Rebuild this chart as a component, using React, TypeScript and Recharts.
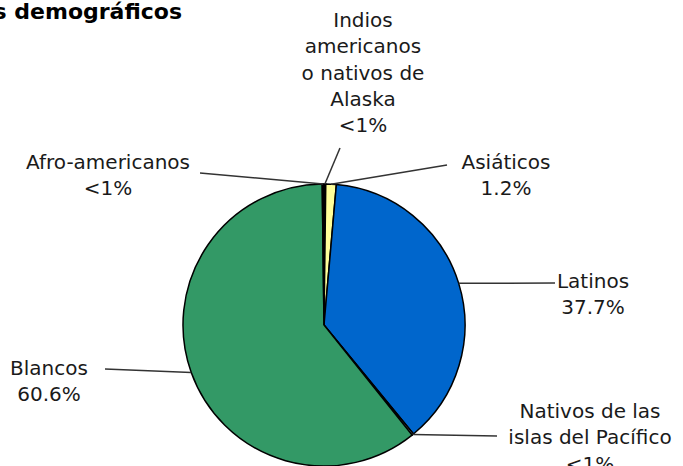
import { PieChart, Pie, Cell } from "recharts";

const groups = [
  "Indios americanos o nativos de Alaska",
  "Asiáticos",
  "Latinos",
  "Nativos de las islas del Pacífico",
  "Blancos",
  "Afro-americanos",
];
const shares = [0.2, 1.2, 37.7, 0.2, 60.6, 0.2];
const shareLabels = ["<1%", "1.2%", "37.7%", "<1%", "60.6%", "<1%"];
const labelLines = [
  ["Indios", "americanos", "o nativos de", "Alaska"],
  ["Asiáticos"],
  ["Latinos"],
  ["Nativos de las", "islas del Pacífico"],
  ["Blancos"],
  ["Afro-americanos"],
];
const colors = ["#000000", "#FFFF99", "#0066CC", "#C0D0E8", "#339966", "#000000"];

// where each label sits: text centre x, first line centre y, leader line start
const labelSpots = [
  { x: 363, y: 20, lx: 340, ly: 148 },
  { x: 506, y: 162, lx: 447, ly: 165 },
  { x: 593, y: 281, lx: 555, ly: 283 },
  { x: 590, y: 411, lx: 497, ly: 436 },
  { x: 49, y: 368, lx: 105, ly: 369 },
  { x: 108, y: 162, lx: 200, ly: 173 },
];

const data = groups.map((name, i) => ({ name, value: shares[i] }));

const RADIAN = Math.PI / 180;

const renderLabel = (props: any) => {
  const { cx, cy, midAngle, outerRadius, index } = props;
  const spot = labelSpots[index];
  const ex = cx + outerRadius * Math.cos(-midAngle * RADIAN);
  const ey = cy + outerRadius * Math.sin(-midAngle * RADIAN);
  const lines = [...labelLines[index], shareLabels[index]];
  return (
    <g key={`lbl-${index}`}>
      <line x1={spot.lx} y1={spot.ly} x2={ex} y2={ey} stroke="#333" strokeWidth={1.5} />
      {lines.map((t, j) => (
        <text
          key={j}
          x={spot.x}
          y={spot.y + j * 26.3}
          textAnchor="middle"
          dominantBaseline="central"
          fontFamily="DejaVu Sans"
          fontSize={20}
          fill="#1a1a1a"
        >
          {t}
        </text>
      ))}
    </g>
  );
};

export default function App() {
  return (
    <div style={{ position: "absolute", left: 0, top: 0, width: 683, height: 466, background: "#fff" }}>
      <PieChart width={683} height={466} margin={{ top: 0, right: 0, bottom: 0, left: 0 }}>
        <text
          x={182}
          y={19}
          textAnchor="end"
          fontFamily="DejaVu Sans"
          fontWeight={900}
          fontSize={22}
          fill="#000"
        >
          Datos demográficos
        </text>
        <Pie
          data={data}
          dataKey="value"
          nameKey="name"
          cx={324}
          cy={325}
          outerRadius={141}
          startAngle={90}
          endAngle={-270}
          stroke="#000"
          strokeWidth={1.5}
          label={renderLabel}
          labelLine={false}
          isAnimationActive={false}
        >
          {data.map((d, i) => (
            <Cell key={d.name} fill={colors[i]} />
          ))}
        </Pie>
      </PieChart>
    </div>
  );
}
